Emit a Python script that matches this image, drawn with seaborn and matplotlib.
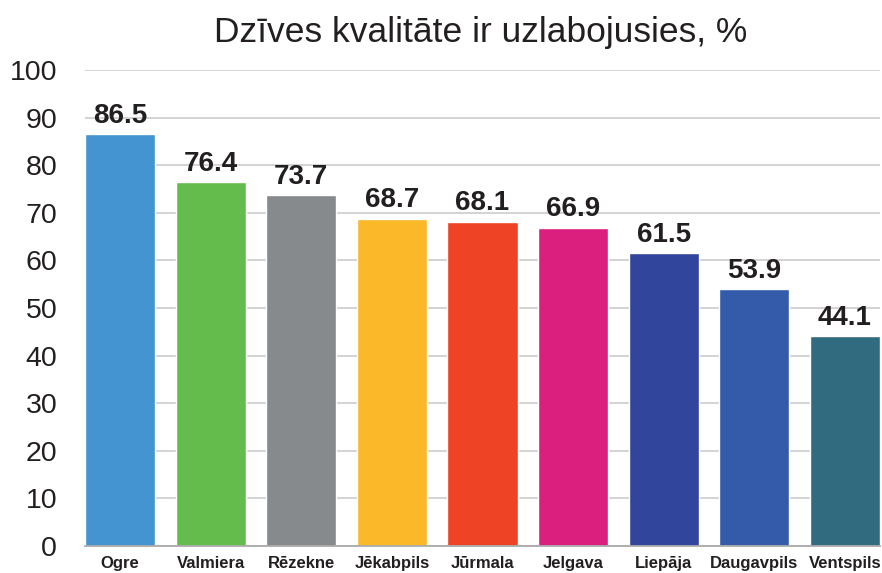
import pandas as pd
import matplotlib
matplotlib.use("Agg")
import matplotlib.pyplot as plt
import seaborn as sns

cities = ['Ogre', 'Valmiera', 'Rēzekne', 'Jēkabpils', 'Jūrmala',
          'Jelgava', 'Liepāja', 'Daugavpils', 'Ventspils']
values = [86.5, 76.4, 73.7, 68.7, 68.1, 66.9, 61.5, 53.9, 44.1]
colors = ['#4394D0', '#64BC4C', '#878A8D', '#FBB829', '#EE4324',
          '#DA1F7F', '#30459B', '#335BA9', '#316B80']
y_ticks = [0, 10, 20, 30, 40, 50, 60, 70, 80, 90, 100]
title = 'Dzīves kvalitāte ir uzlabojusies, %'

text_col = '#231F20'

sns.set_style('white')
plt.rcParams['font.family'] = ['Liberation Sans', 'DejaVu Sans']

df = pd.DataFrame({'city': cities, 'value': values})

fig = plt.figure(figsize=(8.82, 5.73), dpi=100)
ax = fig.add_axes([85 / 882, 1 - 546 / 573, 795 / 882, 476 / 573])

bw = 70 / 90.5
sns.barplot(data=df, x='city', y='value', hue='city', palette=colors,
            width=bw, legend=False, saturation=1, ax=ax, zorder=3)

for c in ax.containers:
    ax.bar_label(c, fmt='%.1f', padding=4, fontsize=20, fontweight='bold',
                 color=text_col)

ax.set_ylim(0, 100)
ax.set_xlim(-bw / 2, 8 + bw / 2)
ax.set_yticks(y_ticks)
ax.yaxis.grid(True, color='#C8C8C8', linewidth=1.1, zorder=0)
ax.set_axisbelow(True)
ax.tick_params(axis='y', length=0, pad=20, labelsize=20.5, labelcolor=text_col)
ax.tick_params(axis='x', length=0, pad=7, labelcolor=text_col)
for lbl in ax.get_xticklabels():
    lbl.set_fontsize(12)
    lbl.set_fontweight('bold')
ax.set_xlabel('')
ax.set_ylabel('')
for s in ['top', 'right', 'left']:
    ax.spines[s].set_visible(False)
ax.spines['bottom'].set_color('#AAAAAA')
ax.spines['bottom'].set_linewidth(1.3)
ax.spines['bottom'].set_zorder(4)

fig.text(481 / 882, 1 - 42 / 573, title, ha='center', va='baseline',
         fontsize=25.5, color=text_col)

fig.savefig('out.png', dpi=100)
